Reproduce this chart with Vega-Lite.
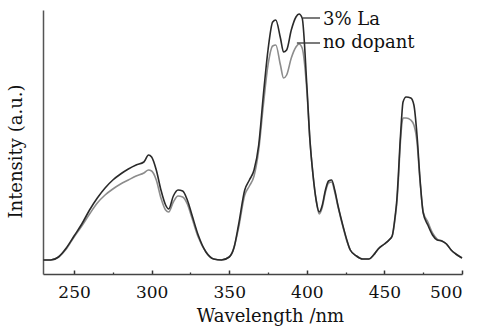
{
  "$schema": "https://vega.github.io/schema/vega-lite/v6.json",
  "width": 419,
  "height": 264,
  "autosize": {"type": "none"},
  "padding": {"left": 43, "top": 10, "right": 31, "bottom": 56},
  "background": "white",
  "config": {"view": {"stroke": null}, "font": "DejaVu Serif"},
  "datasets": {
    "spec": [
      {"wl": 230, "la": 14, "nd": 14}, {"wl": 235, "la": 14, "nd": 14}, {"wl": 240, "la": 17, "nd": 17},
      {"wl": 245, "la": 26, "nd": 25}, {"wl": 250, "la": 38, "nd": 37}, {"wl": 255, "la": 50, "nd": 48},
      {"wl": 260, "la": 64, "nd": 60}, {"wl": 265, "la": 76, "nd": 71}, {"wl": 270, "la": 86, "nd": 79},
      {"wl": 275, "la": 94, "nd": 85}, {"wl": 280, "la": 100, "nd": 90}, {"wl": 285, "la": 105, "nd": 94},
      {"wl": 290, "la": 109, "nd": 98}, {"wl": 295, "la": 112, "nd": 101}, {"wl": 298, "la": 119, "nd": 104},
      {"wl": 300, "la": 117, "nd": 103}, {"wl": 303, "la": 104, "nd": 94}, {"wl": 306, "la": 84, "nd": 76},
      {"wl": 309, "la": 69, "nd": 64}, {"wl": 311, "la": 65, "nd": 62}, {"wl": 314, "la": 78, "nd": 72},
      {"wl": 317, "la": 84, "nd": 78}, {"wl": 320, "la": 83, "nd": 77}, {"wl": 323, "la": 74, "nd": 70},
      {"wl": 326, "la": 59, "nd": 56}, {"wl": 330, "la": 39, "nd": 37}, {"wl": 335, "la": 22, "nd": 22},
      {"wl": 340, "la": 15, "nd": 15}, {"wl": 345, "la": 14, "nd": 14}, {"wl": 350, "la": 17, "nd": 17},
      {"wl": 353, "la": 26, "nd": 26}, {"wl": 356, "la": 49, "nd": 46}, {"wl": 360, "la": 84, "nd": 79},
      {"wl": 363, "la": 94, "nd": 88}, {"wl": 366, "la": 104, "nd": 98}, {"wl": 369, "la": 129, "nd": 124},
      {"wl": 372, "la": 179, "nd": 169}, {"wl": 375, "la": 224, "nd": 209}, {"wl": 378, "la": 252, "nd": 228},
      {"wl": 380, "la": 254, "nd": 229}, {"wl": 383, "la": 236, "nd": 209}, {"wl": 385, "la": 222, "nd": 196},
      {"wl": 387, "la": 224, "nd": 199}, {"wl": 390, "la": 244, "nd": 216}, {"wl": 393, "la": 257, "nd": 227},
      {"wl": 395, "la": 260, "nd": 230}, {"wl": 397, "la": 256, "nd": 226}, {"wl": 400, "la": 189, "nd": 184},
      {"wl": 402, "la": 134, "nd": 134}, {"wl": 404, "la": 99, "nd": 99}, {"wl": 406, "la": 74, "nd": 74},
      {"wl": 408, "la": 62, "nd": 60}, {"wl": 410, "la": 69, "nd": 67}, {"wl": 412, "la": 84, "nd": 82},
      {"wl": 414, "la": 93, "nd": 91}, {"wl": 416, "la": 94, "nd": 92}, {"wl": 418, "la": 84, "nd": 82},
      {"wl": 420, "la": 69, "nd": 68}, {"wl": 422, "la": 56, "nd": 55}, {"wl": 424, "la": 44, "nd": 43},
      {"wl": 426, "la": 33, "nd": 32}, {"wl": 428, "la": 24, "nd": 24}, {"wl": 432, "la": 18, "nd": 18},
      {"wl": 436, "la": 15, "nd": 15}, {"wl": 440, "la": 15, "nd": 15}, {"wl": 443, "la": 19, "nd": 19},
      {"wl": 446, "la": 25, "nd": 25}, {"wl": 450, "la": 30, "nd": 30}, {"wl": 453, "la": 34, "nd": 34},
      {"wl": 455, "la": 38, "nd": 38}, {"wl": 457, "la": 59, "nd": 57}, {"wl": 458, "la": 74, "nd": 71},
      {"wl": 459, "la": 99, "nd": 94}, {"wl": 460, "la": 129, "nd": 124}, {"wl": 461, "la": 154, "nd": 146},
      {"wl": 462, "la": 172, "nd": 156}, {"wl": 464, "la": 177, "nd": 156}, {"wl": 467, "la": 176, "nd": 154},
      {"wl": 469, "la": 169, "nd": 149}, {"wl": 471, "la": 139, "nd": 132}, {"wl": 473, "la": 94, "nd": 92},
      {"wl": 475, "la": 61, "nd": 62}, {"wl": 478, "la": 49, "nd": 52}, {"wl": 481, "la": 39, "nd": 41},
      {"wl": 484, "la": 34, "nd": 35}, {"wl": 487, "la": 33, "nd": 33}, {"wl": 490, "la": 30, "nd": 30},
      {"wl": 493, "la": 24, "nd": 24}, {"wl": 496, "la": 20, "nd": 20}, {"wl": 500, "la": 16, "nd": 16}
    ],
    "labels": [
      {"x": 397.5, "x2": 408.5, "y": 256, "ty": 254, "label": "3% La"},
      {"x": 393.6, "x2": 408.5, "y": 231, "ty": 231, "label": "no dopant"}
    ]
  },
  "resolve": {"axis": {"x": "independent"}},
  "layer": [
    {
      "data": {"name": "spec"},
      "transform": [{"fold": ["nd", "la"], "as": ["series", "v"]}],
      "mark": {"type": "line", "strokeWidth": 1.6, "interpolate": "monotone"},
      "encoding": {
        "x": {
          "field": "wl", "type": "quantitative",
          "scale": {"domain": [230, 500], "nice": false, "zero": false},
          "axis": {
            "orient": "bottom",
            "offset": -4,
            "title": "Wavelength /nm",
            "values": [250, 300, 350, 400, 450, 500],
            "grid": false,
            "domain": false,
            "ticks": true, "tickSize": 4, "tickColor": "#333", "tickWidth": 1.5,
            "labelFont": "DejaVu Serif", "labelFontSize": 17, "labelColor": "#111",
            "labelPadding": 10,
            "titleFont": "DejaVu Serif", "titleFontSize": 18, "titleFontWeight": "normal", "titleColor": "#111",
            "titleBaseline": "middle",
            "titleX": 227, "titleY": 46
          }
        },
        "y": {
          "field": "v", "type": "quantitative",
          "scale": {"domain": [0, 264], "nice": false},
          "axis": {
            "title": "Intensity (a.u.)",
            "ticks": false, "labels": false, "grid": false,
            "domainColor": "#555", "domainWidth": 1.5,
            "titleFont": "DejaVu Serif", "titleFontSize": 18, "titleFontWeight": "normal", "titleColor": "#111",
            "titleX": -18, "titleY": 141
          }
        },
        "color": {
          "field": "series", "type": "nominal",
          "scale": {"domain": ["nd", "la"], "range": ["#8c8c8c", "#2a2a2a"]},
          "legend": null
        }
      }
    },
    {
      "data": {"name": "labels"},
      "mark": {"type": "rule", "color": "#333", "strokeWidth": 1.3},
      "encoding": {
        "x": {
          "field": "x", "type": "quantitative",
          "axis": {
            "orient": "bottom",
            "offset": -2,
            "title": null,
            "labels": false,
            "domain": false,
            "grid": false,
            "ticks": true,
            "values": [275, 325, 375, 425, 475],
            "tickColor": "#333", "tickWidth": 1.3,
            "tickSize": 2
          }
        },
        "x2": {"field": "x2"},
        "y": {"field": "y", "type": "quantitative"}
      }
    },
    {
      "data": {"name": "labels"},
      "mark": {"type": "text", "align": "left", "baseline": "middle", "font": "DejaVu Serif", "fontSize": 18, "color": "#111", "dx": 3},
      "encoding": {
        "x": {"field": "x2", "type": "quantitative", "axis": {
            "orient": "bottom",
            "title": null,
            "labels": false,
            "domain": true, "domainColor": "#444", "domainWidth": 1.5,
            "grid": false,
            "ticks": false
          }},
        "y": {"field": "ty", "type": "quantitative"},
        "text": {"field": "label"}
      }
    }
  ]
}
